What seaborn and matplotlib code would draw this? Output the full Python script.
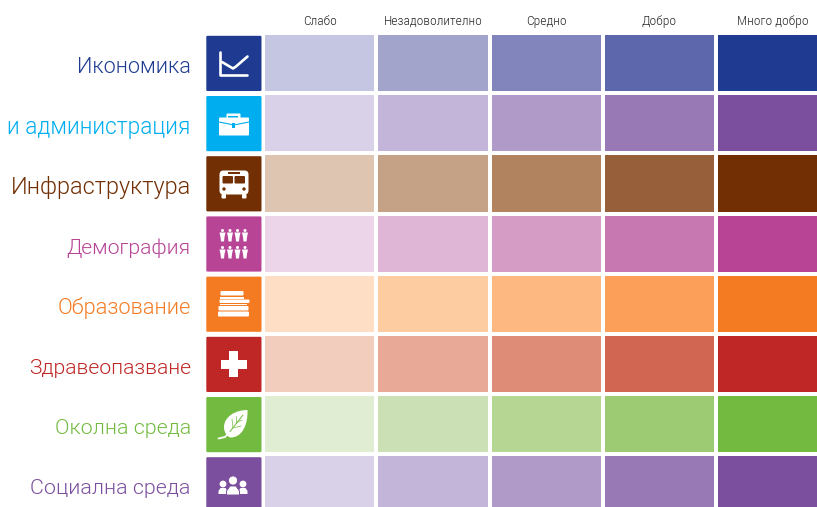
import numpy as np
import seaborn as sns
import matplotlib
matplotlib.use('Agg')
import matplotlib.pyplot as plt
from matplotlib.colors import ListedColormap
from matplotlib.patches import FancyBboxPatch, Rectangle, Circle, Polygon, PathPatch
from matplotlib.path import Path
from matplotlib.transforms import ScaledTranslation

# data
categories = ['Икономика', 'и администрация', 'Инфраструктура', 'Демография',
              'Образование', 'Здравеопазване', 'Околна среда', 'Социална среда']
ratings = ['Слабо', 'Незадоволително', 'Средно', 'Добро', 'Много добро']
scores = [1, 2, 3, 4, 5]
base_colors = ['#1e3b91', '#00aeef', '#722f03', '#b84496',
               '#f57b23', '#bf2626', '#73bb40', '#7b4f9d']
row_colors = [
    ['#c5c7e2', '#a2a4cc', '#8285bc', '#5d67ab', '#1e3b91'],
    ['#d9d1e8', '#c3b4d9', '#af9ac8', '#9879b6', '#7b4f9d'],
    ['#dec5b2', '#c5a286', '#b2835f', '#975f3a', '#722f03'],
    ['#ecd5e8', '#e0b6d6', '#d59cc5', '#c878b1', '#b84496'],
    ['#fedfc5', '#fdcca0', '#fdb882', '#fb9f59', '#f57b23'],
    ['#f2cdbe', '#e8a997', '#de8c77', '#d16653', '#bf2626'],
    ['#e0edd3', '#cbe0b5', '#b6d794', '#9ccb74', '#73bb40'],
    ['#d9d1e8', '#c3b4d9', '#af9ac8', '#9879b6', '#7b4f9d'],
]

W, H = 817, 507
pitch_x, pitch_y = 113.3, 60.2
left, top = 263.0, 33.0
label_sizes = [15.6, 16.3, 16.9, 15.2, 15.7, 15.2, 15.4, 15.4]

sns.set_theme(style='white')
plt.rcParams['font.family'] = ['Roboto', 'DejaVu Sans']

fig = plt.figure(figsize=(W / 100, H / 100), dpi=100)
ax = fig.add_axes([left / W, 1 - (top + 8 * pitch_y) / H, 5 * pitch_x / W, 8 * pitch_y / H])

matrix = np.array([scores] * len(categories))
for i, colors in enumerate(row_colors):
    mask = np.ones(matrix.shape, dtype=bool)
    mask[i] = False
    sns.heatmap(matrix, mask=mask, cmap=ListedColormap(colors), vmin=1, vmax=5, cbar=False,
                linewidths=1.5, linecolor='white', ax=ax,
                xticklabels=ratings, yticklabels=categories)

ax.xaxis.tick_top()
ax.tick_params(axis='both', length=0)
ax.tick_params(axis='y', pad=52, labelrotation=0)
ax.tick_params(axis='x', pad=3.5, labelrotation=0)
for lab in ax.get_xticklabels():
    lab.set_family('Roboto Condensed')
    lab.set_fontweight(300)
    lab.set_fontsize(9.7)
    lab.set_color('#262626')
nudge = ScaledTranslation(0, -3 / 72, fig.dpi_scale_trans)
for lab, c, s in zip(ax.get_yticklabels(), base_colors, label_sizes):
    lab.set_fontsize(s)
    lab.set_fontweight(300)
    lab.set_color(c)
    lab.set_transform(lab.get_transform() + nudge)
ax.set_xlabel('')
ax.set_ylabel('')

# icon tiles, drawn in pixel space
ic = fig.add_axes([0, 0, 1, 1], facecolor='none')
ic.set_xlim(0, W)
ic.set_ylim(H, 0)
ic.axis('off')

tile_x, tile_w, tile_h = 206.3, 55.2, 55.2


def rect(x, y, w, h, color='white', r=0):
    if r:
        ic.add_patch(FancyBboxPatch((x, y), w, h, boxstyle=f'round,pad=0,rounding_size={r}',
                                    fc=color, ec='none'))
    else:
        ic.add_patch(Rectangle((x, y), w, h, fc=color, ec='none'))


def person(x, y, s, color='white'):
    ic.add_patch(Circle((x, y), 1.5 * s, fc=color, ec='none'))
    ic.add_patch(Polygon([(x - 3 * s, y + 2 * s), (x + 3 * s, y + 2 * s),
                          (x + 2 * s, y + 6.5 * s), (x + 1.5 * s, y + 11 * s),
                          (x - 1.5 * s, y + 11 * s), (x - 2 * s, y + 6.5 * s)],
                         fc=color, ec='none'))


def draw_chart(c):
    ic.plot([220.5, 220.5, 247.5], [52, 75, 75], color='white', lw=1.9,
            solid_capstyle='round', solid_joinstyle='round')
    ic.plot([222, 233, 236, 247.5], [62, 68.5, 66.5, 56.5], color='white', lw=1.9,
            solid_joinstyle='round')


def draw_case(c):
    rect(226.5, 113.5, 14, 5, 'white', 1)
    rect(228.5, 115.5, 10, 3, c)
    rect(219, 117.5, 30, 18, 'white', 1)
    ic.plot([219, 234, 249], [122, 125, 122], color=c, lw=0.8)
    rect(232.5, 122.5, 3, 5, c)


def draw_bus(c):
    rect(219.5, 170.5, 29, 24, 'white', 4)
    rect(222.5, 176, 10.5, 7.5, c, 1)
    rect(234.5, 176, 10.5, 7.5, c, 1)
    rect(228, 172.3, 12, 1.4, c)
    ic.add_patch(Circle((224, 189), 1.7, fc=c, ec='none'))
    ic.add_patch(Circle((244, 189), 1.7, fc=c, ec='none'))
    rect(221.5, 194, 4.5, 4.5, 'white', 1)
    rect(242, 194, 4.5, 4.5, 'white', 1)


def draw_people(c):
    for py in (230.5, 247.5):
        for px in (222.5, 230, 237.5, 245):
            person(px, py, 1.0)


def draw_books(c):
    rect(220.5, 291, 23, 4.5, 'white', 1)
    rect(220, 296.5, 24, 2, 'white')
    rect(219.5, 299.5, 30, 3.5, 'white', 1)
    rect(220, 303.8, 27, 1.5, 'white')
    rect(218.5, 306, 30, 4.5, 'white', 1)
    rect(218, 311.5, 31, 5, 'white', 1)
    rect(221, 313.5, 26, 0.8, c)


def draw_cross(c):
    rect(221, 360, 26, 8.5)
    rect(229.5, 351, 8.5, 26)


def draw_leaf(c):
    verts = [(247.5, 410), (235, 410), (224, 417), (224, 427), (224, 432), (226.5, 436),
             (230, 437.5), (242, 438), (248, 425), (247.5, 410), (247.5, 410)]
    codes = [Path.MOVETO, Path.CURVE4, Path.CURVE4, Path.CURVE4, Path.CURVE4, Path.CURVE4,
             Path.CURVE4, Path.CURVE4, Path.CURVE4, Path.CURVE4, Path.CLOSEPOLY]
    ic.add_patch(PathPatch(Path(verts, codes), fc='white', ec='none'))
    ic.plot([218.5, 225, 231], [438.5, 437, 431], color='white', lw=1.3)
    ic.plot([230, 243], [431.5, 415], color=c, lw=0.7)
    for a, b in [((233, 428), (241, 426)), ((236, 423), (242, 420)), ((233, 428), (232, 419)),
                 ((236, 423), (236, 416))]:
        ic.plot([a[0], b[0]], [a[1], b[1]], color=c, lw=0.5)


def draw_group(c):
    for cx in (223, 243):
        ic.add_patch(Circle((cx, 484), 3.4, fc='white', ec='none'))
        ic.add_patch(Polygon([(cx - 4.5, 494), (cx - 4.5, 491), (cx - 2.5, 488), (cx + 2.5, 488),
                              (cx + 4.5, 491), (cx + 4.5, 494)], fc='white', ec='none'))
    ic.add_patch(Circle((233, 480.5), 4.6, fc='white', ec=c, lw=0.7))
    ic.add_patch(Polygon([(226.5, 495), (226.5, 491), (230, 486), (236, 486), (239.5, 491), (239.5, 495)],
                         fc='white', ec=c, lw=0.7))


icon_funcs = [draw_chart, draw_case, draw_bus, draw_people, draw_books, draw_cross, draw_leaf, draw_group]
for i, (color, func) in enumerate(zip(base_colors, icon_funcs)):
    y = top + 2.8 + i * pitch_y
    rect(tile_x, y, tile_w, tile_h, color, 1.2)
    func(color)

fig.savefig('out.png', dpi=100)
